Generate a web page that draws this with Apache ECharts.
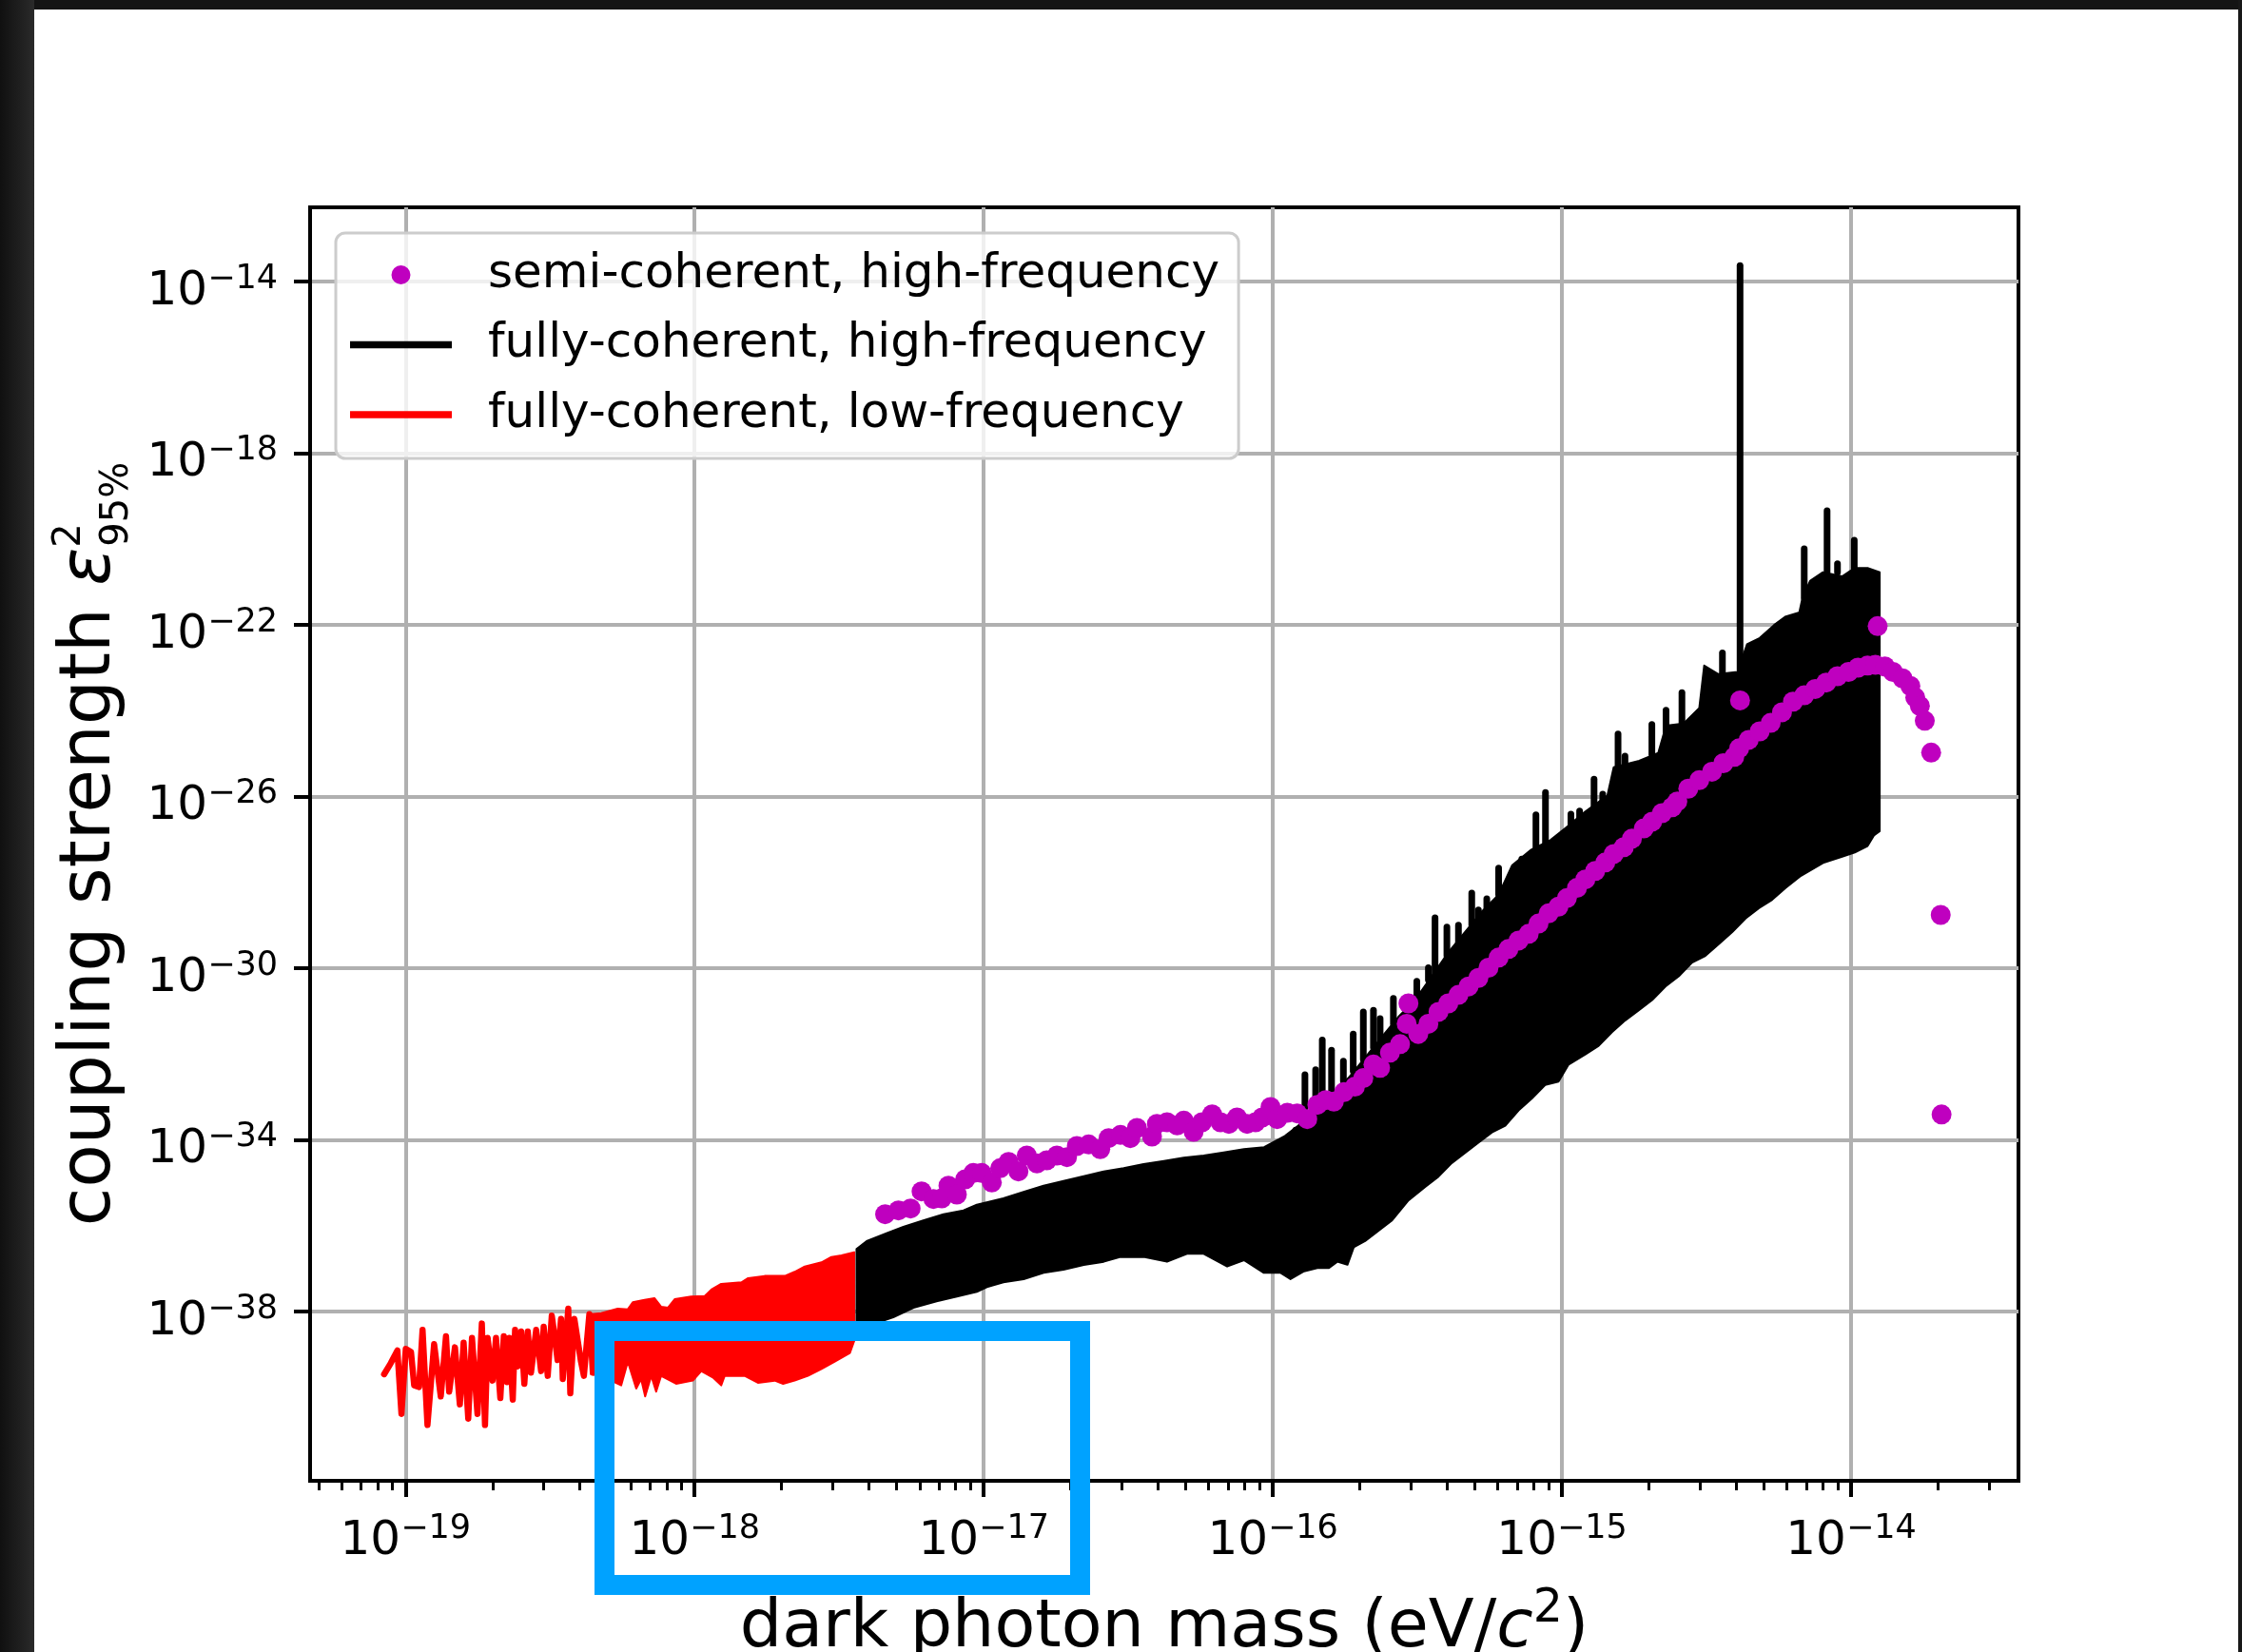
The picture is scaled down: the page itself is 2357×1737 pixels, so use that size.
<!DOCTYPE html>
<html lang="en">
<head>
    <meta charset="UTF-8">
    <title>dark photon coupling limits</title>
    <style>
        *{
            margin: 0;
            padding: 0;
        }
        body{
            background: #fff;
        }
        .main{
            width: 2357px;
            height: 1737px;
        }
    </style>
    <script src="https://cdn.jsdelivr.net/npm/echarts@6/dist/echarts.min.js"></script>
</head>
<body>
<div class="main"></div>
<script>
    // all values are log10: x = log10(mass / eV c^-2), y = log10(epsilon^2)
    const seriesNames = ['semi-coherent, high-frequency', 'fully-coherent, high-frequency', 'fully-coherent, low-frequency'];
    const xTicks = [-19, -18, -17, -16, -15, -14];
    const yTicks = [-38, -34, -30, -26, -22, -18, -14];
    const xRange = [-19.330, -13.421];
    const yRange = [-41.945, -12.271];

    // low-frequency, sparse part: the zigzag as it is drawn
    const lowFreqZigzag = [
        [-19.074,-39.462],[-19.051,-39.204],[-19.028,-38.908],[-19.014,-40.386],[-18.999,-38.871],[-18.981,-38.945],
        [-18.970,-39.721],[-18.953,-39.758],[-18.941,-38.428],[-18.924,-40.644],[-18.901,-38.761],[-18.878,-39.979],
        [-18.860,-38.576],[-18.849,-39.869],[-18.829,-38.834],[-18.812,-40.164],[-18.799,-38.724],[-18.783,-40.497],
        [-18.770,-38.613],[-18.751,-40.386],[-18.736,-38.280],[-18.725,-40.644],[-18.716,-38.613],[-18.699,-39.610],
        [-18.687,-38.613],[-18.672,-40.016],[-18.660,-38.576],[-18.649,-39.647],[-18.641,-38.613],[-18.629,-40.053],
        [-18.621,-38.428],[-18.612,-39.278],[-18.600,-38.465],[-18.589,-39.684],[-18.577,-38.465],[-18.566,-39.425],
        [-18.548,-38.428],[-18.531,-39.388],[-18.522,-38.354],[-18.508,-39.499],[-18.494,-38.096],[-18.485,-38.539],
        [-18.474,-39.130],[-18.462,-38.170],[-18.456,-39.573],[-18.437,-37.933],[-18.430,-39.906],[-18.416,-38.170],
        [-18.393,-39.167],[-18.383,-39.499],[-18.364,-38.059],[-18.352,-39.425]
    ];
    // low-frequency, dense part: upper and lower edge
    const lowFreqTop = [
        [-18.358,-38.059],[-18.323,-38.037],[-18.266,-37.933],[-18.231,-37.948],[-18.214,-37.785],[-18.173,-37.726],
        [-18.139,-37.689],[-18.116,-37.889],[-18.092,-37.911],[-18.069,-37.712],[-18.012,-37.653],[-17.965,-37.638],
        [-17.942,-37.490],[-17.908,-37.357],[-17.838,-37.320],[-17.815,-37.224],[-17.758,-37.172],[-17.688,-37.172],
        [-17.654,-37.076],[-17.619,-36.951],[-17.561,-36.855],[-17.527,-36.729],[-17.492,-36.692],[-17.448,-36.618]
    ];
    const lowFreqBottom = [
        [-18.358,-39.462],[-18.323,-39.499],[-18.254,-39.721],[-18.231,-39.167],[-18.202,-39.795],[-18.185,-39.573],
        [-18.171,-39.979],[-18.150,-39.499],[-18.133,-39.869],[-18.116,-39.499],[-18.064,-39.684],[-18.006,-39.610],
        [-17.977,-39.388],[-17.937,-39.536],[-17.908,-39.721],[-17.896,-39.499],[-17.827,-39.499],[-17.781,-39.662],
        [-17.723,-39.610],[-17.694,-39.684],[-17.654,-39.610],[-17.608,-39.499],[-17.561,-39.337],[-17.515,-39.167],
        [-17.463,-38.967],[-17.448,-38.686]
    ];
    // high-frequency band: upper and lower edge
    const highFreqTop = [
        [-17.44,-36.545],[-17.405,-36.36],[-17.336,-36.175],[-17.278,-36.028],[-17.209,-35.88],[-17.139,-35.732],
        [-17.07,-35.643],[-17.024,-35.51],[-16.932,-35.363],[-16.862,-35.215],[-16.793,-35.067],[-16.724,-34.956],
        [-16.654,-34.846],[-16.585,-34.735],[-16.516,-34.661],[-16.447,-34.565],[-16.377,-34.491],[-16.308,-34.417],
        [-16.239,-34.366],[-16.17,-34.292],[-16.1,-34.218],[-16.03,-34.17],[-15.958,-33.907],[-15.912,-33.669],
        [-15.854,-33.274],[-15.797,-32.957],[-15.739,-32.561],[-15.681,-32.087],[-15.624,-31.612],[-15.566,-31.137],
        [-15.508,-30.741],[-15.45,-30.187],[-15.393,-29.633],[-15.335,-29.158],[-15.277,-28.683],[-15.219,-28.288],
        [-15.172,-27.6],[-15.106,-27.237],[-15.04,-27.015],[-14.985,-26.72],[-14.919,-26.35],[-14.843,-25.981],
        [-14.821,-25.316],[-14.733,-25.169],[-14.667,-24.984],[-14.64,-24.35],[-14.579,-24.3],[-14.525,-23.938],
        [-14.508,-22.949],[-14.459,-23.147],[-14.393,-23.097],[-14.36,-22.454],[-14.316,-22.306],[-14.267,-22.009],
        [-14.228,-21.811],[-14.179,-21.712],[-14.168,-21.366],[-14.141,-20.97],[-14.097,-20.773],[-14.031,-20.871],
        [-13.987,-20.673],[-13.943,-20.673],[-13.901,-20.773]
    ];
    const highFreqBottom = [
        [-17.44,-38.43],[-17.393,-38.317],[-17.313,-38.133],[-17.243,-37.911],[-17.163,-37.764],[-17.093,-37.653],
        [-17.024,-37.542],[-16.989,-37.431],[-16.932,-37.32],[-16.862,-37.246],[-16.793,-37.099],[-16.724,-37.025],
        [-16.654,-36.914],[-16.585,-36.84],[-16.527,-36.729],[-16.447,-36.729],[-16.366,-36.84],[-16.297,-36.655],
        [-16.239,-36.655],[-16.158,-36.951],[-16.1,-36.803],[-16.031,-37.099],[-15.973,-37.099],[-15.939,-37.246],
        [-15.892,-37.062],[-15.846,-36.988],[-15.806,-36.988],[-15.777,-36.84],[-15.742,-36.91],[-15.72,-36.5],
        [-15.681,-36.36],[-15.635,-36.123],[-15.589,-35.885],[-15.531,-35.411],[-15.473,-35.094],[-15.427,-34.857],
        [-15.381,-34.54],[-15.335,-34.303],[-15.289,-34.065],[-15.242,-33.828],[-15.196,-33.669],[-15.15,-33.313],
        [-15.104,-33.036],[-15.058,-32.72],[-15.012,-32.641],[-14.977,-32.245],[-14.919,-32.007],[-14.873,-31.81],
        [-14.827,-31.493],[-14.781,-31.216],[-14.734,-30.979],[-14.688,-30.741],[-14.642,-30.425],[-14.596,-30.187],
        [-14.55,-29.87],[-14.504,-29.712],[-14.457,-29.435],[-14.411,-29.158],[-14.365,-28.842],[-14.319,-28.604],
        [-14.273,-28.406],[-14.226,-28.129],[-14.173,-27.846],[-14.097,-27.549],[-14.031,-27.401],[-13.987,-27.302],
        [-13.943,-27.154],[-13.921,-26.906],[-13.901,-26.807]
    ];
    // spikes standing out of the band: [mass, foot, tip]
    const highFreqSpikes = [
        [-15.921,-33.96,-33.774],[-15.889,-33.51,-32.482],[-15.852,-33.274,-32.364],[-15.829,-33.115,-31.675],
        [-15.797,-32.957,-31.912],[-15.756,-32.64,-32.166],[-15.722,-32.4,-31.533],[-15.687,-32.13,-31.018],
        [-15.652,-31.85,-30.979],[-15.629,-31.69,-31.176],[-15.583,-31.295,-30.701],[-15.502,-30.7,-30.306],
        [-15.462,-30.27,-29.989],[-15.439,-30.187,-28.826],[-15.398,-29.71,-29.039],[-15.358,-29.4,-29.0],
        [-15.312,-29.0,-28.248],[-15.289,-28.84,-28.644],[-15.26,-28.6,-28.383],[-15.219,-28.288,-27.67],
        [-15.139,-27.654,-27.456],[-15.09,-27.237,-26.424],[-15.057,-27.163,-25.907],[-14.969,-26.72,-26.41],
        [-14.939,-26.57,-26.336],[-14.889,-26.277,-25.597],[-14.859,-26.13,-25.944],[-14.806,-25.316,-24.541],
        [-14.782,-25.316,-25.058],[-14.689,-25.021,-24.319],[-14.64,-24.873,-23.987],[-14.585,-24.356,-23.58],
        [-14.445,-23.147,-22.652],[-14.384,-23.05,-13.63],[-14.162,-21.366,-20.228],[-14.083,-20.773,-19.338],
        [-14.047,-20.773,-20.574],[-13.989,-20.673,-20.03]
    ];
    // semi-coherent points
    const semiCoherent = [
        [-17.341,-35.732],[-17.295,-35.643],[-17.253,-35.599],[-17.215,-35.2],[-17.174,-35.378],[-17.145,-35.363],
        [-17.122,-35.067],[-17.093,-35.274],[-17.064,-34.92],[-17.036,-34.772],[-17.007,-34.772],[-16.972,-34.993],
        [-16.943,-34.661],[-16.914,-34.513],[-16.88,-34.735],[-16.851,-34.365],[-16.816,-34.55],[-16.782,-34.476],
        [-16.747,-34.365],[-16.712,-34.402],[-16.678,-34.144],[-16.637,-34.107],[-16.597,-34.218],[-16.568,-33.959],
        [-16.527,-33.885],[-16.493,-33.959],[-16.47,-33.723],[-16.418,-33.922],[-16.401,-33.627],[-16.366,-33.59],
        [-16.331,-33.664],[-16.308,-33.553],[-16.274,-33.811],[-16.245,-33.59],[-16.21,-33.405],[-16.181,-33.59],
        [-16.152,-33.627],[-16.124,-33.479],[-16.089,-33.627],[-16.06,-33.59],[-16.037,-33.479],[-16.008,-33.235],
        [-15.985,-33.516],[-15.95,-33.368],[-15.916,-33.383],[-15.881,-33.516],[-15.846,-33.184],[-15.817,-33.073],
        [-15.789,-33.11],[-15.754,-32.888],[-15.716,-32.759],[-15.687,-32.561],[-15.652,-32.245],[-15.629,-32.324],
        [-15.595,-31.968],[-15.56,-31.77],[-15.537,-31.295],[-15.531,-30.82],[-15.497,-31.532],[-15.462,-31.295],
        [-15.427,-31.018],[-15.393,-30.82],[-15.358,-30.622],[-15.323,-30.424],[-15.289,-30.227],[-15.254,-29.989],
        [-15.219,-29.752],[-15.185,-29.554],[-15.15,-29.356],[-15.115,-29.198],[-15.081,-28.96],[-15.046,-28.723],
        [-15.012,-28.565],[-14.983,-28.367],[-14.948,-28.129],[-14.919,-27.931],[-14.885,-27.734],[-14.85,-27.536],
        [-14.821,-27.338],[-14.786,-27.18],[-14.758,-26.982],[-14.717,-26.744],[-14.688,-26.586],[-14.654,-26.388],
        [-14.619,-26.25],[-14.601,-26.115],[-14.563,-25.818],[-14.525,-25.62],[-14.481,-25.422],[-14.442,-25.224],
        [-14.404,-25.076],[-14.387,-24.878],[-14.384,-23.76],[-14.354,-24.68],[-14.316,-24.482],[-14.278,-24.285],
        [-14.239,-24.037],[-14.201,-23.79],[-14.162,-23.642],[-14.124,-23.493],[-14.086,-23.345],[-14.047,-23.196],
        [-14.009,-23.097],[-13.976,-22.998],[-13.943,-22.949],[-13.916,-22.929],[-13.908,-22.029],[-13.883,-22.969],
        [-13.855,-23.097],[-13.822,-23.246],[-13.795,-23.424],[-13.778,-23.691],[-13.762,-23.889],[-13.745,-24.235],
        [-13.723,-24.977],[-13.69,-28.76],[-13.687,-33.41]
    ];

    const font = 'DejaVu Sans';
    let xMinor = [];
    for (let n = -20; n <= -14; n++) {
        for (let k = 2; k <= 9; k++) {
            let v = n + Math.log10(k);
            if (v > xRange[0] && v < xRange[1]) xMinor.push(v);
        }
    }

    function powLabel(v) {
        return '{b|10}{s|\u2212' + Math.abs(Math.round(v)) + '}';
    }
    const tickRich = {
        b: {fontSize: 50, lineHeight: 56, fontFamily: font, color: '#000', verticalAlign: 'middle'},
        s: {fontSize: 35, lineHeight: 35, padding: [0, 0, 27, 0], fontFamily: font, color: '#000', verticalAlign: 'middle'}
    };
    const xNameRich = {
        n: {fontSize: 70, lineHeight: 80, fontFamily: font, color: '#000', verticalAlign: 'middle'},
        i: {fontSize: 70, lineHeight: 80, fontFamily: font, fontStyle: 'italic', color: '#000', verticalAlign: 'middle'},
        p: {fontSize: 49, lineHeight: 49, padding: [0, 0, 42, 0], fontFamily: font, color: '#000', verticalAlign: 'middle'}
    };
    const yNameRich = {
        n: {fontSize: 74, lineHeight: 84, align: 'left', fontFamily: font, color: '#000', verticalAlign: 'middle'},
        i: {fontSize: 74, lineHeight: 84, align: 'left', fontFamily: font, fontStyle: 'italic', color: '#000', verticalAlign: 'middle'},
        ps: {fontSize: 40, lineHeight: 40, width: 1, align: 'left', padding: [0, 0, 44, 0], fontFamily: font, color: '#000', verticalAlign: 'middle'},
        q: {fontSize: 40, lineHeight: 40, align: 'left', padding: [56, 0, 0, 0], fontFamily: font, color: '#000', verticalAlign: 'middle'}
    };

    // filled region between an upper and a lower edge
    function band(name, color, top, bottom) {
        return {
            name: name,
            type: 'custom',
            clip: true,
            itemStyle: {color: color},
            data: top,
            renderItem: function (params, api) {
                if (params.dataIndex !== 0) return null;
                let pts = top.map(p => api.coord(p));
                for (let i = bottom.length - 1; i >= 0; i--) pts.push(api.coord(bottom[i]));
                return {
                    type: 'polygon',
                    shape: {points: pts},
                    style: {fill: color, stroke: color, lineWidth: 2, lineJoin: 'round'}
                };
            }
        };
    }

    let main = document.querySelector('.main');
    let chart = echarts.init(main);
    const dotIcon = 'path://M0,0 M140,20 M43.5,10 A10,10 0 1,1 63.5,10 A10,10 0 1,1 43.5,10 Z';
    const lineIcon = 'path://M0,0 M140,20 M0,6.2 L107,6.2 L107,13.8 L0,13.8 Z';

    let option = {
        animation: false,
        backgroundColor: '#fff',
        grid: {
            left: 326, top: 218, width: 1796, height: 1339,
            outerBoundsMode: 'none',
            show: true, borderColor: '#000', borderWidth: 4
        },
        legend: {
            left: 353, top: 245,
            orient: 'vertical',
            padding: [19, 20, 21, 15],
            itemWidth: 140, itemHeight: 20, itemGap: 23.5,
            backgroundColor: 'rgba(255,255,255,0.8)',
            borderColor: '#cccccc', borderWidth: 3, borderRadius: 10,
            selectedMode: false,
            itemStyle: {borderWidth: 0},
            textStyle: {fontSize: 50, lineHeight: 50, fontFamily: font, color: '#000'},
            data: [
                {name: seriesNames[0], icon: dotIcon},
                {name: seriesNames[1], icon: lineIcon},
                {name: seriesNames[2], icon: lineIcon}
            ]
        },
        xAxis: [{
            type: 'value', min: xRange[0], max: xRange[1],
            axisLine: {show: true, onZero: false, lineStyle: {color: '#000', width: 4}},
            axisTick: {show: true, customValues: xTicks, length: 17, lineStyle: {color: '#000', width: 4}},
            axisLabel: {customValues: xTicks, formatter: powLabel, margin: 36, rich: tickRich},
            splitLine: {show: true, lineStyle: {color: '#b0b0b0', width: 4}},
            name: '{n|dark photon mass (eV/}{i|c}{p|2}{n|)}',
            nameLocation: 'middle', nameGap: 116,
            nameTextStyle: {rich: xNameRich}
        }, {
            type: 'value', min: xRange[0], max: xRange[1], position: 'bottom',
            axisLine: {show: false},
            axisLabel: {show: false},
            splitLine: {show: false},
            axisTick: {show: true, customValues: xMinor, length: 10, lineStyle: {color: '#000', width: 3}}
        }],
        yAxis: {
            type: 'value', min: yRange[0], max: yRange[1],
            axisLine: {show: true, onZero: false, lineStyle: {color: '#000', width: 4}},
            axisTick: {show: true, customValues: yTicks, length: 17, lineStyle: {color: '#000', width: 4}},
            axisLabel: {customValues: yTicks, formatter: powLabel, margin: 34, padding: [22, 0, 0, 0], rich: tickRich},
            splitLine: {show: true, lineStyle: {color: '#b0b0b0', width: 4}},
            name: '{n|coupling strength }{i|\u03b5}{ps|2}{q|95%}',
            nameLocation: 'middle', nameRotate: 90, nameGap: 187,
            nameTextStyle: {rich: yNameRich}
        },
        series: [
            band(seriesNames[1], '#000', highFreqTop, highFreqBottom),
            {
                name: seriesNames[1],
                type: 'custom',
                clip: true,
                itemStyle: {color: '#000'},
                data: highFreqSpikes,
                renderItem: function (params, api) {
                    let a = api.coord([api.value(0), api.value(1)]);
                    let b = api.coord([api.value(0), api.value(2)]);
                    return {
                        type: 'line',
                        shape: {x1: a[0], y1: a[1], x2: b[0], y2: b[1]},
                        style: {stroke: '#000', lineWidth: 7, lineCap: 'round'}
                    };
                }
            },
            {
                name: seriesNames[2],
                type: 'line',
                data: lowFreqZigzag,
                showSymbol: false,
                symbol: 'none',
                itemStyle: {color: '#ff0000'},
                lineStyle: {color: '#ff0000', width: 6.5, join: 'round', cap: 'round'}
            },
            band(seriesNames[2], '#ff0000', lowFreqTop, lowFreqBottom),
            {
                name: seriesNames[0],
                type: 'scatter',
                data: semiCoherent,
                symbolSize: 21,
                itemStyle: {color: '#bf00bf', opacity: 1},
                z: 5
            }
        ],
        graphic: [
            {type: 'rect', silent: true, z: -1, shape: {x: 0, y: 0, width: 2357, height: 10}, style: {fill: '#141414'}},
            {type: 'rect', silent: true, z: -1, shape: {x: 0, y: 0, width: 36, height: 1737},
                style: {fill: new echarts.graphic.LinearGradient(0, 0, 1, 0, [{offset: 0, color: '#101010'}, {offset: 1, color: '#2a2a2a'}])}},
            {type: 'rect', silent: true, z: -1, shape: {x: 2353, y: 0, width: 4, height: 1737}, style: {fill: '#181818'}},
            {type: 'rect', silent: true, z: 100, shape: {x: 635.5, y: 1399.5, width: 500, height: 267},
                style: {fill: 'none', stroke: '#00a2ff', lineWidth: 21}}
        ]
    };
    chart.setOption(option);
</script>
</body>
</html>
